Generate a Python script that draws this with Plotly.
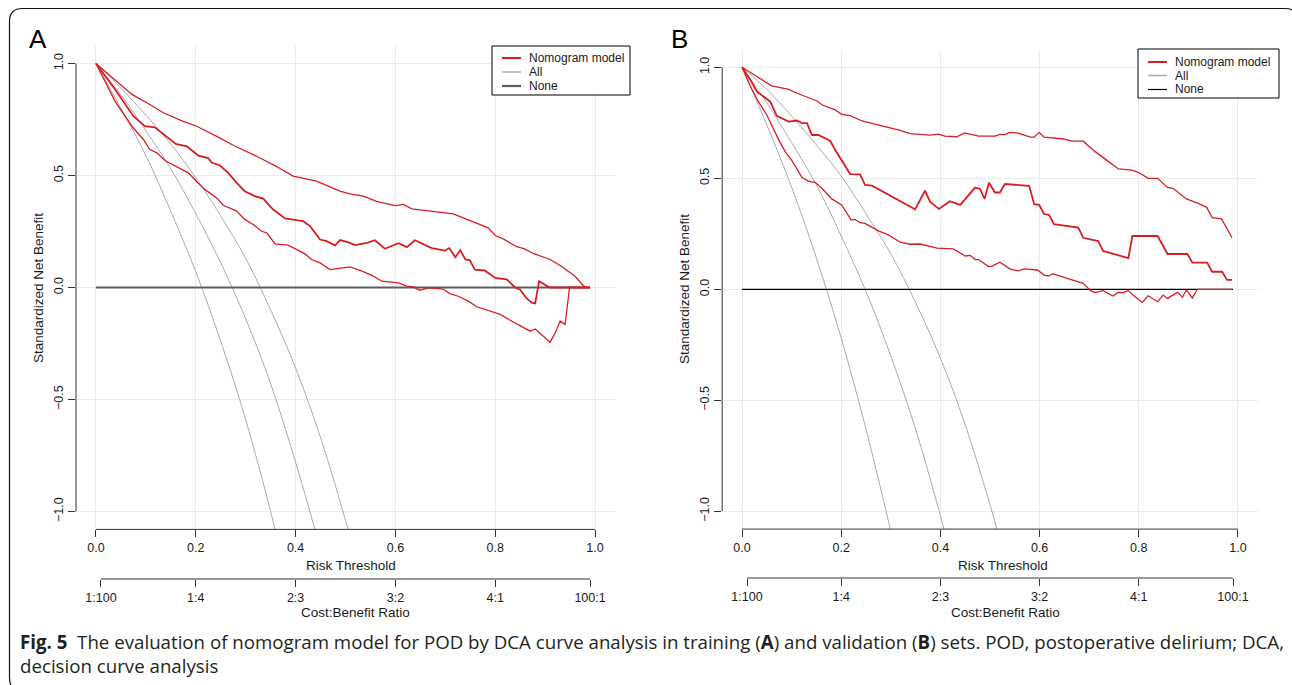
import plotly.graph_objects as go

W, H = 1292, 685

# ---------------- Data ----------------
# Panel A (training set)
a_up_t = [0, 0.031, 0.072, 0.108, 0.135, 0.175, 0.202, 0.242, 0.275, 0.322, 0.362, 0.395, 0.442, 0.489, 0.509,
          0.536, 0.562, 0.599, 0.616, 0.633, 0.676, 0.716, 0.736, 0.763, 0.786, 0.8, 0.816, 0.843, 0.859, 0.876,
          0.91, 0.93, 0.96, 0.98, 0.99]
a_up_v = [1, 0.939, 0.862, 0.817, 0.78, 0.742, 0.72, 0.675, 0.635, 0.586, 0.54, 0.497, 0.475, 0.43, 0.418,
          0.408, 0.385, 0.366, 0.371, 0.351, 0.34, 0.329, 0.311, 0.286, 0.266, 0.232, 0.217, 0.182, 0.172, 0.152,
          0.125, 0.098, 0.05, 0.0, 0.0]

a_mid_t = [0, 0.041, 0.075, 0.098, 0.118, 0.135, 0.16, 0.182, 0.205, 0.225, 0.232, 0.248, 0.265, 0.282, 0.298,
           0.318, 0.335, 0.355, 0.379, 0.395, 0.415, 0.429, 0.449, 0.462, 0.479, 0.489, 0.509, 0.519, 0.543, 0.559,
           0.579, 0.606, 0.623, 0.639, 0.659, 0.673, 0.699, 0.708, 0.72, 0.73, 0.74, 0.749, 0.759, 0.779, 0.8,
           0.823, 0.84, 0.85, 0.863, 0.873, 0.88, 0.888, 0.909, 0.99]
a_mid_v = [1, 0.876, 0.765, 0.72, 0.715, 0.686, 0.641, 0.63, 0.589, 0.578, 0.557, 0.546, 0.512, 0.467, 0.43,
           0.408, 0.397, 0.348, 0.308, 0.303, 0.296, 0.274, 0.214, 0.207, 0.188, 0.212, 0.199, 0.189, 0.199, 0.211,
           0.173, 0.198, 0.18, 0.211, 0.192, 0.176, 0.165, 0.176, 0.135, 0.167, 0.125, 0.122, 0.08, 0.076, 0.043,
           0.036, 0.0, -0.01, -0.049, -0.068, -0.071, 0.028, 0.0, 0.0]

a_lo_t = [0, 0.038, 0.072, 0.095, 0.108, 0.122, 0.138, 0.165, 0.185, 0.202, 0.218, 0.242, 0.255, 0.282, 0.298,
          0.315, 0.332, 0.342, 0.359, 0.385, 0.409, 0.419, 0.432, 0.449, 0.469, 0.486, 0.509, 0.533, 0.553, 0.573,
          0.606, 0.623, 0.636, 0.649, 0.666, 0.696, 0.709, 0.726, 0.746, 0.763, 0.783, 0.8, 0.81, 0.83, 0.853,
          0.87, 0.88, 0.893, 0.91, 0.92, 0.93, 0.94, 0.949, 0.99]
a_lo_v = [1, 0.832, 0.72, 0.661, 0.616, 0.601, 0.567, 0.534, 0.512, 0.472, 0.438, 0.40, 0.367, 0.341, 0.304,
          0.281, 0.251, 0.244, 0.195, 0.189, 0.162, 0.15, 0.125, 0.11, 0.08, 0.085, 0.092, 0.073, 0.054, 0.028,
          0.021, 0.006, 0.003, -0.012, -0.002, -0.007, -0.027, -0.039, -0.061, -0.086, -0.101, -0.116, -0.12,
          -0.146, -0.176, -0.195, -0.185, -0.21, -0.244, -0.203, -0.15, -0.165, 0.0, 0.0]

a_all1_t = [0, 0.05, 0.1, 0.15, 0.2, 0.25, 0.3, 0.35, 0.365]
a_all1_v = [1, 0.80, 0.59, 0.34, 0.07, -0.24, -0.59, -1.00, -1.14]
a_all2_t = [0, 0.05, 0.1, 0.15, 0.2, 0.25, 0.3, 0.35, 0.4, 0.445]
a_all2_v = [1, 0.86, 0.70, 0.53, 0.33, 0.11, -0.14, -0.43, -0.78, -1.13]
a_all3_t = [0, 0.05, 0.1, 0.15, 0.2, 0.25, 0.3, 0.35, 0.4, 0.45, 0.5, 0.51]
a_all3_v = [1, 0.89, 0.77, 0.64, 0.49, 0.32, 0.13, -0.10, -0.36, -0.67, -1.04, -1.12]

# Panel B (validation set)
b_up_t = [0, 0.06, 0.094, 0.111, 0.151, 0.162, 0.188, 0.201, 0.218, 0.242, 0.282, 0.315, 0.339, 0.352, 0.379,
          0.396, 0.409, 0.433, 0.449, 0.477, 0.51, 0.52, 0.53, 0.54, 0.557, 0.581, 0.589, 0.599, 0.609, 0.648,
          0.665, 0.688, 0.712, 0.739, 0.759, 0.786, 0.799, 0.819, 0.838, 0.858, 0.869, 0.896, 0.92, 0.937,
          0.948, 0.967, 0.988]
b_up_v = [1, 0.916, 0.90, 0.883, 0.848, 0.83, 0.808, 0.788, 0.782, 0.758, 0.736, 0.718, 0.701, 0.699, 0.694,
          0.699, 0.69, 0.687, 0.704, 0.69, 0.69, 0.698, 0.697, 0.707, 0.703, 0.685, 0.685, 0.707, 0.685, 0.677,
          0.667, 0.667, 0.62, 0.575, 0.542, 0.537, 0.527, 0.5, 0.5, 0.459, 0.455, 0.407, 0.387, 0.369,
          0.323, 0.317, 0.232]

b_mid_t = [0, 0.017, 0.03, 0.044, 0.057, 0.07, 0.094, 0.111, 0.121, 0.131, 0.141, 0.154, 0.178, 0.188, 0.201,
           0.218, 0.238, 0.248, 0.262, 0.349, 0.369, 0.379, 0.397, 0.419, 0.44, 0.47, 0.48, 0.489, 0.498, 0.51,
           0.52, 0.53, 0.579, 0.589, 0.599, 0.609, 0.619, 0.629, 0.678, 0.688, 0.718, 0.728, 0.779, 0.787,
           0.838, 0.858, 0.898, 0.908, 0.938, 0.948, 0.968, 0.978, 0.988]
b_mid_v = [1, 0.943, 0.89, 0.865, 0.845, 0.781, 0.755, 0.76, 0.748, 0.748, 0.695, 0.695, 0.668, 0.627, 0.578,
           0.519, 0.518, 0.47, 0.467, 0.36, 0.444, 0.395, 0.362, 0.397, 0.38, 0.458, 0.452, 0.407, 0.48, 0.436,
           0.436, 0.474, 0.466, 0.383, 0.38, 0.339, 0.335, 0.293, 0.278, 0.232, 0.217, 0.173, 0.14, 0.24,
           0.24, 0.159, 0.159, 0.12, 0.12, 0.079, 0.079, 0.042, 0.042]

b_lo_t = [0, 0.017, 0.033, 0.05, 0.074, 0.087, 0.1, 0.121, 0.134, 0.148, 0.161, 0.181, 0.201, 0.22, 0.228,
          0.238, 0.248, 0.275, 0.295, 0.319, 0.339, 0.359, 0.393, 0.426, 0.45, 0.46, 0.47, 0.477, 0.497, 0.503,
          0.52, 0.54, 0.557, 0.569, 0.596, 0.609, 0.617, 0.627, 0.688, 0.703, 0.712, 0.728, 0.748, 0.758,
          0.769, 0.779, 0.792, 0.807, 0.819, 0.838, 0.849, 0.858, 0.878, 0.888, 0.896, 0.908, 0.918, 0.988]
b_lo_v = [1, 0.913, 0.845, 0.785, 0.673, 0.62, 0.582, 0.503, 0.487, 0.481, 0.455, 0.407, 0.38, 0.312, 0.315,
          0.30, 0.297, 0.263, 0.245, 0.212, 0.203, 0.204, 0.185, 0.182, 0.15, 0.153, 0.134, 0.134, 0.102, 0.103,
          0.122, 0.092, 0.083, 0.092, 0.087, 0.064, 0.06, 0.069, 0.027, -0.006, -0.015, -0.006, -0.03, -0.014,
          -0.015, -0.005, -0.033, -0.059, -0.029, -0.056, -0.026, -0.041, -0.014, -0.036, -0.003, -0.039, 0.0, 0.0]

b_all1_t = [0, 0.05, 0.1, 0.15, 0.2, 0.25, 0.3, 0.305]
b_all1_v = [1, 0.74, 0.46, 0.14, -0.22, -0.63, -1.09, -1.14]
b_all2_t = [0, 0.05, 0.1, 0.15, 0.2, 0.25, 0.3, 0.35, 0.4, 0.415]
b_all2_v = [1, 0.84, 0.66, 0.47, 0.24, -0.01, -0.30, -0.63, -1.02, -1.15]
b_all3_t = [0, 0.05, 0.1, 0.15, 0.2, 0.25, 0.3, 0.35, 0.4, 0.45, 0.5, 0.52]
b_all3_v = [1, 0.90, 0.78, 0.65, 0.51, 0.34, 0.16, -0.06, -0.31, -0.61, -0.97, -1.13]

none_t = [0, 0.99]
none_v = [0, 0]

risk_ticks = [0, 0.2, 0.4, 0.6, 0.8, 1.0]
cb_ticks = [0.01, 0.2, 0.4, 0.6, 0.8, 0.99]
cb_labels = ["1:100", "1:4", "2:3", "3:2", "4:1", "100:1"]
y_ticks = [-1, -0.5, 0, 0.5, 1]
legend_labels = ["Nomogram model", "All", "None"]

# ---------------- Styling ----------------
FONT = "Liberation Sans, Arial, Helvetica, sans-serif"
CAPFONT = "Open Sans, Liberation Sans, sans-serif"
RED = "#D81E25"
GRAY = "#ABABAB"
GRID = "#EBEBEB"
AX = "#333333"
TXT = "#1a1a1a"
NONE_A = "#5E5E5E"
NONE_B = "#000000"


def py(p):
    return 1 - p / H


def pxx(p):
    return p / W


fig = go.Figure()


def add_panel(xa, ya, xcb, alls, none_color, none_width, up, mid, lo):
    for t, v in alls:
        fig.add_trace(go.Scatter(x=t, y=v, mode="lines", name="All",
                                 line=dict(color=GRAY, width=1, shape="spline", smoothing=1.0),
                                 xaxis=xa, yaxis=ya, showlegend=False, hoverinfo="skip"))
    fig.add_trace(go.Scatter(x=none_t, y=none_v, mode="lines", name="None",
                             line=dict(color=none_color, width=none_width),
                             xaxis=xa, yaxis=ya, showlegend=False, hoverinfo="skip"))
    for (t, v), w in [(up, 1.3), (lo, 1.3), (mid, 1.8)]:
        fig.add_trace(go.Scatter(x=t, y=v, mode="lines", name="Nomogram model",
                                 line=dict(color=RED, width=w),
                                 xaxis=xa, yaxis=ya, showlegend=False, hoverinfo="skip"))
    # invisible trace so that the cost:benefit axis is drawn
    fig.add_trace(go.Scatter(x=[cb_ticks[0], cb_ticks[-1]], y=[0, 0], mode="markers",
                             marker=dict(opacity=0), xaxis=xcb, yaxis=ya,
                             showlegend=False, hoverinfo="skip"))


add_panel("x", "y", "x3",
          [(a_all1_t, a_all1_v), (a_all2_t, a_all2_v), (a_all3_t, a_all3_v)],
          NONE_A, 2, (a_up_t, a_up_v), (a_mid_t, a_mid_v), (a_lo_t, a_lo_v))
add_panel("x2", "y2", "x4",
          [(b_all1_t, b_all1_v), (b_all2_t, b_all2_v), (b_all3_t, b_all3_v)],
          NONE_B, 1.2, (b_up_t, b_up_v), (b_mid_t, b_mid_v), (b_lo_t, b_lo_v))

tickfont = dict(family=FONT, size=12.5, color=TXT)


def xaxis_main(dom, anchor):
    return dict(domain=dom, anchor=anchor, range=[-0.04, 1.04], tickvals=risk_ticks, tickformat=".1f",
                ticks="outside", ticklen=7, tickwidth=1, tickcolor=AX, showline=False,
                showgrid=True, gridcolor=GRID, gridwidth=1, zeroline=False, tickfont=tickfont,
                fixedrange=True)


def xaxis_cb(over, pos):
    return dict(overlaying=over, anchor="free", position=pos, side="bottom", range=[-0.04, 1.04],
                tickmode="array", tickvals=cb_ticks, ticktext=cb_labels, ticks="outside", ticklen=7,
                tickwidth=1, tickcolor=AX, showline=False, showgrid=False, zeroline=False,
                tickfont=tickfont, fixedrange=True)


def yaxis_main(dom, anchor):
    return dict(domain=dom, anchor=anchor, range=[-1.08, 1.08], tickvals=y_ticks, tickformat=".1f",
                tickangle=-90, ticks="outside", ticklen=7, tickwidth=1, tickcolor=AX, showline=False,
                showgrid=True, gridcolor=GRID, gridwidth=1, zeroline=False, tickfont=tickfont,
                fixedrange=True)


xA = [pxx(76), pxx(615)]
yA = [py(529.4), py(45.6)]
xB = [pxx(722.2), pxx(1257.8)]
yB = [py(529.1), py(49.5)]

shapes = []
# R-style axis lines (only over the tick span)
for xr, yr, pos in [("x", "y", py(579)), ("x2", "y2", py(578))]:
    shapes.append(dict(type="line", xref=xr + " domain", x0=0, x1=0, yref=yr, y0=-1, y1=1,
                       line=dict(color=AX, width=1)))
    shapes.append(dict(type="line", xref=xr, x0=0, x1=1, yref=yr + " domain", y0=0, y1=0,
                       line=dict(color=AX, width=1)))
    shapes.append(dict(type="line", xref=xr, x0=cb_ticks[0], x1=cb_ticks[-1], yref="paper",
                       y0=pos, y1=pos, line=dict(color=AX, width=1)))

# rounded outer frame
x0f, y0f, x1f, y1f, r = 9.5, 8.5, 1298, 691, 13
path = (f"M {pxx(x0f + r)},{py(y0f)} L {pxx(x1f - r)},{py(y0f)} "
        f"Q {pxx(x1f)},{py(y0f)} {pxx(x1f)},{py(y0f + r)} "
        f"L {pxx(x1f)},{py(y1f - r)} Q {pxx(x1f)},{py(y1f)} {pxx(x1f - r)},{py(y1f)} "
        f"L {pxx(x0f + r)},{py(y1f)} Q {pxx(x0f)},{py(y1f)} {pxx(x0f)},{py(y1f - r)} "
        f"L {pxx(x0f)},{py(y0f + r)} Q {pxx(x0f)},{py(y0f)} {pxx(x0f + r)},{py(y0f)} Z")
shapes.append(dict(type="path", xref="paper", yref="paper", path=path,
                   line=dict(color="#111111", width=1.2), fillcolor="rgba(0,0,0,0)"))

ann = []

# legends (R-style boxed legends)
legfont = dict(family=FONT, size=12, color=TXT)
for (bx0, by0, bx1, by1, lx0, lx1, tx, rows, none_c, none_w) in [
        (492, 46, 630, 95, 502, 521, 527, [58, 72, 86], NONE_A, 2.2),
        (1138, 49, 1279, 98, 1148, 1167, 1173, [62, 75.5, 89.5], NONE_B, 1.2)]:
    shapes.append(dict(type="rect", xref="paper", yref="paper", x0=pxx(bx0), x1=pxx(bx1),
                       y0=py(by1), y1=py(by0), line=dict(color="#000000", width=1),
                       fillcolor="white", layer="above"))
    styles = [(RED, 2), (GRAY, 1.5), (none_c, none_w)]
    for lab, yy, (c, w) in zip(legend_labels, rows, styles):
        shapes.append(dict(type="line", xref="paper", yref="paper", x0=pxx(lx0), x1=pxx(lx1),
                           y0=py(yy), y1=py(yy), line=dict(color=c, width=w), layer="above"))
        ann.append(dict(text=lab, xref="paper", yref="paper", x=pxx(tx), y=py(yy),
                        xanchor="left", yanchor="middle", showarrow=False, font=legfont))

tfont = dict(family=FONT, size=13.5, color=TXT)
for xr, rt_x, cb_x, rt_y, cb_y, ytx, yty, lab, labx in [
        ("x", 0.511, 0.521, 565, 612, 38, 288, "A", 38),
        ("x2", 0.526, 0.531, 565, 612, 684, 289, "B", 679)]:
    ann.append(dict(text="Risk Threshold", xref=xr, x=rt_x, yref="paper", y=py(rt_y),
                    xanchor="center", yanchor="middle", showarrow=False, font=tfont))
    ann.append(dict(text="Cost:Benefit Ratio", xref=xr, x=cb_x, yref="paper", y=py(cb_y),
                    xanchor="center", yanchor="middle", showarrow=False, font=tfont))
    ann.append(dict(text="Standardized Net Benefit", xref="paper", x=pxx(ytx), yref="paper", y=py(yty),
                    xanchor="center", yanchor="middle", textangle=-90, showarrow=False, font=tfont))
    ann.append(dict(text=lab, xref="paper", x=pxx(labx), yref="paper", y=py(39),
                    xanchor="center", yanchor="middle", showarrow=False,
                    font=dict(family=FONT, size=26, color="#000000")))

capfont = dict(family=CAPFONT, size=18.7, color="#231f20")
ann.append(dict(text="<b>Fig. 5</b>  The evaluation of nomogram model for POD by DCA curve analysis in training "
                     "(<b>A</b>) and validation (<b>B</b>) sets. POD, postoperative delirium; DCA,",
                xref="paper", x=pxx(18), yref="paper", y=py(641), xanchor="left", yanchor="middle",
                showarrow=False, font=capfont))
ann.append(dict(text="decision curve analysis", xref="paper", x=pxx(18), yref="paper", y=py(665),
                xanchor="left", yanchor="middle", showarrow=False, font=capfont))

fig.update_layout(
    width=W, height=H, autosize=False,
    margin=dict(l=0, r=0, t=0, b=0),
    paper_bgcolor="white", plot_bgcolor="white",
    font=dict(family=FONT, color=TXT),
    xaxis=xaxis_main(xA, "y"),
    yaxis=yaxis_main(yA, "x"),
    xaxis2=xaxis_main(xB, "y2"),
    yaxis2=yaxis_main(yB, "x2"),
    xaxis3=xaxis_cb("x", py(579)),
    xaxis4=xaxis_cb("x2", py(578)),
    shapes=shapes,
    annotations=ann,
    showlegend=False,
)

fig.write_html("out.html", config={"displayModeBar": False, "staticPlot": True},
               post_script="document.body.style.margin='0px';document.body.style.overflow='hidden';")
